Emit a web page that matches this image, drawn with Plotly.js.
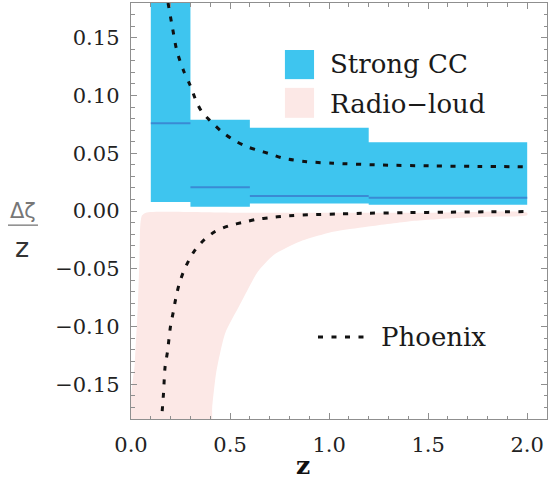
<!DOCTYPE html>
<html>
<head>
<meta charset="utf-8">
<script src="https://cdn.plot.ly/plotly-3.0.1.min.js"></script>
<style>
  html, body { margin: 0; padding: 0; background: #fff; }
  #chart { width: 552px; height: 482px; }
</style>
</head>
<body>
<div id="chart"></div>
<script>
// Redshift bins of the strong cool-core sample
const binLo = [0.1, 0.3, 0.6, 1.2];
const binHi = [0.3, 0.6, 1.2, 2.0];
const ccTop = [0.25, 0.079, 0.072, 0.0595];
const ccBottom = [0.0078, 0.0037, 0.0065, 0.0055];
const ccCentre = [0.076, 0.0205, 0.013, 0.0115];

// Radio-loud allowed region: upper edge, lower-right edge, left edge
const radioUpperZ = [0.075, 0.5, 1.0, 1.5, 2.0];
const radioUpperY = [-0.0015, -0.0015, -0.0015, -0.0015, -0.0015];
const radioLowerZ = [2.0, 1.8, 1.6, 1.4, 1.19, 1.02, 0.85, 0.72, 0.64, 0.55, 0.475, 0.43, 0.41, 0.40];
const radioLowerY = [-0.0037, -0.005, -0.0065, -0.009, -0.0136, -0.018, -0.0266, -0.038, -0.0525, -0.081, -0.106, -0.14, -0.17, -0.19];
const radioLeftZ = [0.005, 0.02, 0.035, 0.043, 0.047, 0.055, 0.075];
const radioLeftY = [-0.19, -0.13, -0.08, -0.04, -0.012, -0.004, -0.0015];

// Phoenix cluster tracks
const phoenixUpZ = [0.187, 0.21, 0.231, 0.264, 0.298, 0.33, 0.357, 0.40, 0.458, 0.517, 0.584, 0.643, 0.70, 0.77, 0.887, 1.02, 1.27, 1.525, 1.75, 2.0];
const phoenixUpY = [0.180, 0.158, 0.139, 0.122, 0.109, 0.0947, 0.086, 0.078, 0.0687, 0.0615, 0.0557, 0.0525, 0.0495, 0.0456, 0.0427, 0.0413, 0.0398, 0.039, 0.0386, 0.0383];
const phoenixLowZ = [0.152, 0.164, 0.172, 0.184, 0.20, 0.214, 0.226, 0.242, 0.264, 0.293, 0.328, 0.374, 0.429, 0.497, 0.567, 0.635, 0.70, 0.77, 0.90, 1.05, 1.20, 1.40, 1.60, 1.80, 2.00];
const phoenixLowY = [-0.185, -0.158, -0.135, -0.122, -0.099, -0.087, -0.0757, -0.064, -0.053, -0.0424, -0.0326, -0.0242, -0.0173, -0.0127, -0.0098, -0.0072, -0.0058, -0.0045, -0.0033, -0.0025, -0.0019, -0.0014, -0.0010, -0.0007, -0.0005];

// Axis ticks
const xTicks = [0.0, 0.5, 1.0, 1.5, 2.0];
const yTicks = [-0.15, -0.10, -0.05, 0.00, 0.05, 0.10, 0.15];

const BLUE = 'rgb(62,197,239)';
const BLUE_LINE = 'rgb(58,138,212)';
const PINK = 'rgb(252,232,230)';
const DASH = '5px,8.5px';
const SERIF = 'DejaVu Serif';

// Build boxes and centre segments separated by gaps
const boxX = [], boxY = [], midX = [], midY = [];
binLo.forEach((lo, i) => {
  const hi = binHi[i];
  boxX.push(lo, hi, hi, lo, lo, null);
  boxY.push(ccBottom[i], ccBottom[i], ccTop[i], ccTop[i], ccBottom[i], null);
  midX.push(lo, hi, null);
  midY.push(ccCentre[i], ccCentre[i], null);
});

const radioX = radioUpperZ.concat(radioLowerZ, radioLeftZ);
const radioY = radioUpperY.concat(radioLowerY, radioLeftY);

const traces = [
  { x: radioX, y: radioY, type: 'scatter', mode: 'lines', fill: 'toself',
    fillcolor: PINK, line: { width: 0, shape: 'spline', smoothing: 0.6 },
    showlegend: false, hoverinfo: 'skip' },
  { x: boxX, y: boxY, type: 'scatter', mode: 'lines', fill: 'toself',
    fillcolor: BLUE, line: { width: 0 }, showlegend: false, hoverinfo: 'skip' },
  { x: midX, y: midY, type: 'scatter', mode: 'lines',
    line: { color: BLUE_LINE, width: 2 }, showlegend: false },
  { x: phoenixUpZ, y: phoenixUpY, type: 'scatter', mode: 'lines',
    line: { color: '#111', width: 3, dash: DASH, shape: 'spline', smoothing: 0.8 }, showlegend: false },
  { x: phoenixLowZ, y: phoenixLowY, type: 'scatter', mode: 'lines',
    line: { color: '#111', width: 3, dash: DASH, shape: 'spline', smoothing: 0.8 }, showlegend: false }
];

const tickFont = { family: SERIF, size: 21, color: '#222' };
const legendFont = { family: SERIF, size: 26, color: '#1a1a1a' };

const axisCommon = {
  showline: true, linecolor: '#8f8f8f', linewidth: 1.3, mirror: 'allticks',
  ticks: 'inside', ticklen: 6, tickwidth: 1, tickcolor: '#8f8f8f',
  showgrid: false, zeroline: false, tickfont: tickFont, ticklabelstandoff: 6
};

const layout = {
  width: 552, height: 482,
  margin: { l: 131, r: 5, t: 3, b: 63 },
  paper_bgcolor: '#fff', plot_bgcolor: '#fff',
  showlegend: false,
  xaxis: Object.assign({}, axisCommon, {
    range: [0, 2.1], tickvals: xTicks, tickformat: '.1f',
    minor: { ticks: 'inside', dtick: 0.1, ticklen: 3.5, tickcolor: '#8f8f8f', showgrid: false }
  }),
  yaxis: Object.assign({}, axisCommon, {
    range: [-0.18, 0.18], tickvals: yTicks, tickformat: '.2f',
    minor: { ticks: 'inside', dtick: 0.01, ticklen: 3.5, tickcolor: '#8f8f8f', showgrid: false }
  }),
  shapes: [
    // legend swatches
    { type: 'rect', xref: 'paper', yref: 'paper', x0: 0.370, x1: 0.440, y0: 0.817, y1: 0.887,
      fillcolor: BLUE, line: { width: 0 } },
    { type: 'rect', xref: 'paper', yref: 'paper', x0: 0.370, x1: 0.440, y0: 0.724, y1: 0.796,
      fillcolor: PINK, line: { width: 0 } },
    { type: 'line', xref: 'paper', yref: 'paper', x0: 0.4495, x1: 0.568, y0: 0.197, y1: 0.197,
      line: { color: '#111', width: 3, dash: DASH } },
    // fraction bar of the y label
    { type: 'line', xref: 'paper', yref: 'paper', x0: -0.2957, x1: -0.2236, y0: 0.466, y1: 0.466,
      line: { color: '#777', width: 1.3 } }
  ],
  annotations: [
    { xref: 'paper', yref: 'paper', x: 0.4736, y: 0.853, xanchor: 'left', yanchor: 'middle',
      text: 'Strong CC', showarrow: false, font: legendFont },
    { xref: 'paper', yref: 'paper', x: 0.4736, y: 0.758, xanchor: 'left', yanchor: 'middle',
      text: 'Radio\u2212loud', showarrow: false, font: legendFont },
    { xref: 'paper', yref: 'paper', x: 0.596, y: 0.197, xanchor: 'left', yanchor: 'middle',
      text: 'Phoenix', showarrow: false, font: legendFont },
    { xref: 'paper', yref: 'paper', x: -0.26, y: 0.50, xanchor: 'center', yanchor: 'middle',
      text: '\u0394\u03b6', showarrow: false,
      font: { family: 'DejaVu Sans', size: 21, color: '#777' } },
    { xref: 'paper', yref: 'paper', x: -0.263, y: 0.413, xanchor: 'center', yanchor: 'middle',
      text: 'z', showarrow: false,
      font: { family: 'DejaVu Sans', size: 27, color: '#333' } },
    { xref: 'paper', yref: 'paper', x: 0.4135, y: -0.112, xanchor: 'center', yanchor: 'middle',
      text: '<b>z</b>', showarrow: false,
      font: { family: SERIF, size: 25, color: '#111' } }
  ]
};

Plotly.newPlot('chart', traces, layout, { staticPlot: true, displayModeBar: false });
</script>
</body>
</html>
